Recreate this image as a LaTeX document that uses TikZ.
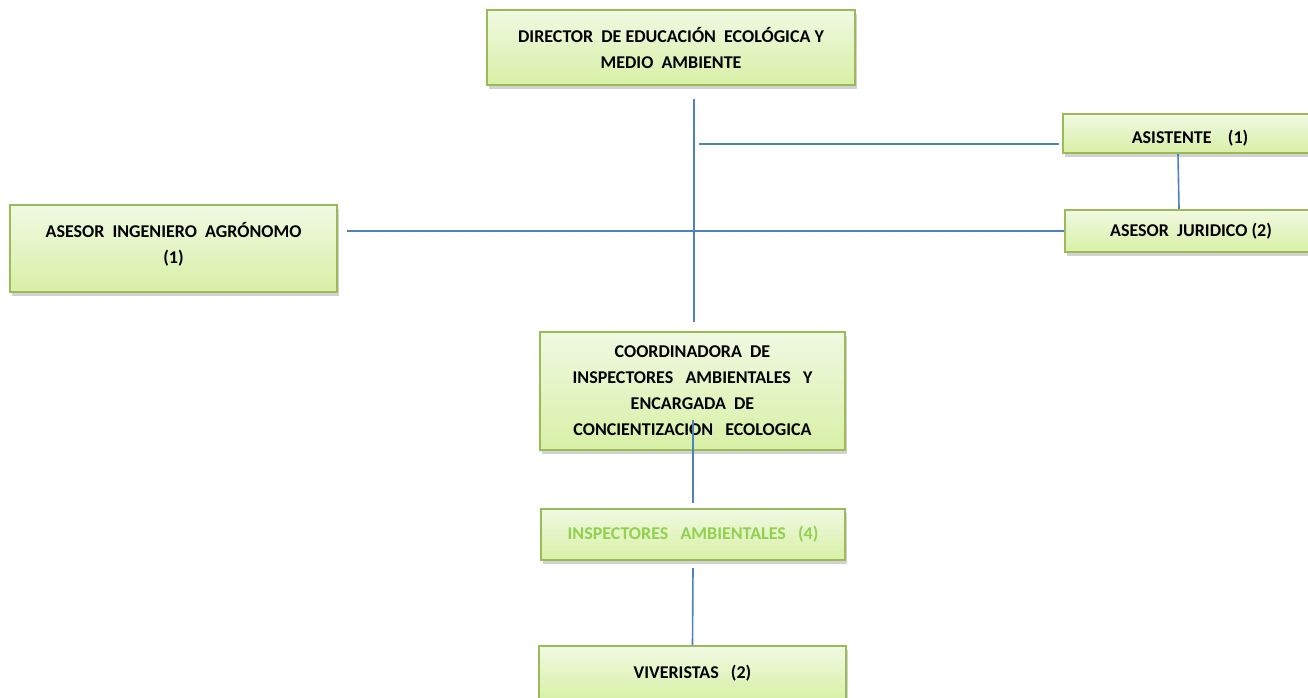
\documentclass[tikz,border=0pt]{standalone}
\usepackage{fontspec}
\setmainfont{Carlito}
\usetikzlibrary{shadows}
\definecolor{verdeborde}{HTML}{9BBB59}
\definecolor{verdearriba}{HTML}{F0F9E2}
\definecolor{verdeabajo}{HTML}{D8F0A6}
\definecolor{azullinea}{HTML}{4F81BD}
\definecolor{verdetexto}{HTML}{92D050}

\begin{document}
\begin{tikzpicture}[x=1pt,y=-1pt,
    cargo/.style={draw=verdeborde,line width=2pt,top color=verdearriba,bottom color=verdeabajo,
      drop shadow={opacity=0.35,shadow xshift=2pt,shadow yshift=-4pt},
      align=center,inner sep=0pt,font=\fontsize{18}{26}\selectfont\bfseries},
    linea/.style={azullinea,line width=1.6pt}]
  \clip (0,0) rectangle (1308,697);
  \fill[white] (0,0) rectangle (1308,697);

  \node[cargo,minimum width=368pt,minimum height=75pt] (dir) at (671,47.5)
    {DIRECTOR\ \ DE EDUCACIÓN\ \ ECOLÓGICA Y\\MEDIO\ \ AMBIENTE};
  \node[cargo,minimum width=254pt,minimum height=39pt] (asis) at (1190,133.5)
    {\rule{0pt}{22pt}ASISTENTE\ \ \ \ (1)};
  \node[cargo,minimum width=252pt,minimum height=42pt] (jur) at (1191,231)
    {ASESOR\ \ JURIDICO (2)};
  \node[cargo,minimum width=327pt,minimum height=87pt] (ing) at (173.5,248.5)
    {ASESOR\ \ INGENIERO\ \ AGRÓNOMO\\(1)\rule[-12pt]{0pt}{0pt}};
  \node[cargo,minimum width=305pt,minimum height=118pt] (coord) at (692.5,391)
    {COORDINADORA\ \ DE\\INSPECTORES\ \ \ AMBIENTALES\ \ \ Y\\ENCARGADA\ \ DE\\CONCIENTIZACION\ \ \ ECOLOGICA};
  \node[cargo,minimum width=304pt,minimum height=51pt,text=verdetexto] (insp) at (693,534.5)
    {INSPECTORES\ \ \ AMBIENTALES\ \ \ (4)};
  \node[cargo,minimum width=307pt,minimum height=54pt] (viv) at (692.5,673)
    {VIVERISTAS\ \ \ (2)};

  \coordinate (t1) at (694,99);
  \coordinate (t2) at (694,322);
  \coordinate (a1) at (699,144);
  \coordinate (a2) at (1059,144);
  \coordinate (g1) at (347,231);
  \coordinate (c1) at (693,420);
  \coordinate (c2) at (693,503);
  \coordinate (i1) at (693,568);

  \draw[linea] (t1) -- (t2);
  \draw[linea] (a1) -- (a2);
  \draw[linea] (g1) -- (jur.west);
  \draw[linea] ([xshift=-12pt]asis.south) -- ([xshift=-12pt]jur.north);
  \draw[linea] (c1) -- (c2);
  \draw[linea] (i1) -- (viv.north);
\end{tikzpicture}
\end{document}
